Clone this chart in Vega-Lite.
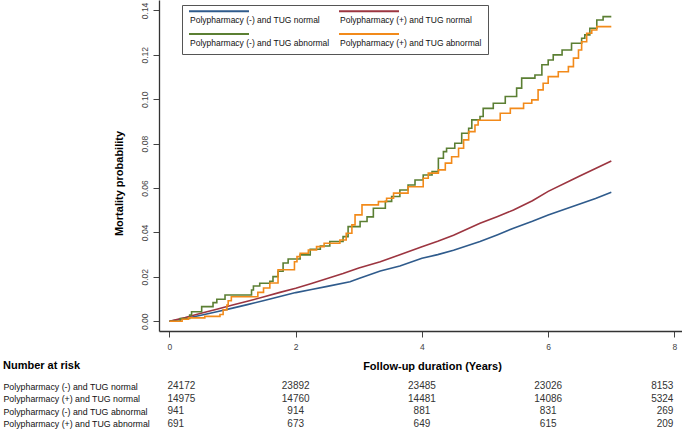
{
  "$schema": "https://vega.github.io/schema/vega-lite/v6.json",
  "background": "white",
  "padding": {"left": 3, "top": 0, "right": 0, "bottom": 0},
  "bounds": "flush",
  "spacing": 49,
  "config": {"font": "Liberation Sans", "view": {"stroke": null}, "axis": {"grid": false}},
  "datasets": {
    "blue": [
      {"t":0,"p":0},{"t":0.25,"p":0.0012},{"t":0.5,"p":0.0027},{"t":0.75,"p":0.0043},{"t":1.0,"p":0.0059},{"t":1.25,"p":0.0076},{"t":1.5,"p":0.0093},{"t":1.75,"p":0.0111},{"t":2.0,"p":0.0129},{"t":2.25,"p":0.0143},{"t":2.5,"p":0.0157},{"t":2.86,"p":0.0178},{"t":3.0,"p":0.0192},{"t":3.34,"p":0.0226},{"t":3.65,"p":0.0249},{"t":4.0,"p":0.0284},{"t":4.25,"p":0.0300},{"t":4.5,"p":0.0320},{"t":4.92,"p":0.0359},{"t":5.2,"p":0.0390},{"t":5.45,"p":0.0419},{"t":5.75,"p":0.0450},{"t":6.0,"p":0.0479},{"t":6.25,"p":0.0503},{"t":6.5,"p":0.0528},{"t":6.75,"p":0.0553},{"t":7.0,"p":0.0581}
    ],
    "red": [
      {"t":0,"p":0},{"t":0.25,"p":0.0017},{"t":0.5,"p":0.0036},{"t":0.75,"p":0.0054},{"t":1.0,"p":0.0073},{"t":1.25,"p":0.0091},{"t":1.5,"p":0.0110},{"t":1.75,"p":0.0130},{"t":2.0,"p":0.0149},{"t":2.25,"p":0.0170},{"t":2.5,"p":0.0192},{"t":2.75,"p":0.0215},{"t":3.0,"p":0.0240},{"t":3.34,"p":0.0268},{"t":3.65,"p":0.0299},{"t":4.0,"p":0.0336},{"t":4.25,"p":0.0360},{"t":4.5,"p":0.0387},{"t":4.92,"p":0.0441},{"t":5.2,"p":0.0472},{"t":5.45,"p":0.0501},{"t":5.75,"p":0.0543},{"t":6.0,"p":0.0585},{"t":6.37,"p":0.0636},{"t":6.5,"p":0.0654},{"t":6.75,"p":0.0688},{"t":7.0,"p":0.0722}
    ],
    "green": [
      {"t":0,"p":0},{"t":0.17,"p":0.0012},{"t":0.32,"p":0.0028},{"t":0.35,"p":0.0043},{"t":0.51,"p":0.0066},{"t":0.69,"p":0.0084},{"t":0.75,"p":0.0099},{"t":0.88,"p":0.0118},{"t":1.30,"p":0.0141},{"t":1.33,"p":0.0159},{"t":1.43,"p":0.0171},{"t":1.59,"p":0.0180},{"t":1.64,"p":0.0201},{"t":1.72,"p":0.0225},{"t":1.80,"p":0.0262},{"t":1.88,"p":0.0280},{"t":2.07,"p":0.0299},{"t":2.23,"p":0.0324},{"t":2.39,"p":0.0339},{"t":2.54,"p":0.0359},{"t":2.75,"p":0.0381},{"t":2.83,"p":0.0426},{"t":3.02,"p":0.0449},{"t":3.13,"p":0.0470},{"t":3.23,"p":0.0509},{"t":3.42,"p":0.0540},{"t":3.52,"p":0.0562},{"t":3.65,"p":0.0591},{"t":3.78,"p":0.0614},{"t":3.89,"p":0.0636},{"t":4.02,"p":0.0659},{"t":4.16,"p":0.0674},{"t":4.26,"p":0.0734},{"t":4.34,"p":0.0764},{"t":4.39,"p":0.0779},{"t":4.52,"p":0.0802},{"t":4.63,"p":0.0847},{"t":4.74,"p":0.0869},{"t":4.79,"p":0.0907},{"t":4.92,"p":0.0922},{"t":4.97,"p":0.0959},{"t":5.13,"p":0.0982},{"t":5.32,"p":0.1012},{"t":5.50,"p":0.1050},{"t":5.58,"p":0.1095},{"t":5.79,"p":0.1109},{"t":5.90,"p":0.1155},{"t":6.00,"p":0.1177},{"t":6.08,"p":0.1200},{"t":6.22,"p":0.1222},{"t":6.37,"p":0.1252},{"t":6.53,"p":0.1275},{"t":6.58,"p":0.1290},{"t":6.66,"p":0.1320},{"t":6.77,"p":0.1357},{"t":6.87,"p":0.1372},{"t":7.00,"p":0.1372}
    ],
    "orange": [
      {"t":0,"p":0},{"t":0.20,"p":0.0009},{"t":0.30,"p":0.0015},{"t":0.56,"p":0.0022},{"t":0.80,"p":0.0030},{"t":0.85,"p":0.0051},{"t":0.91,"p":0.0073},{"t":0.93,"p":0.0092},{"t":0.98,"p":0.0110},{"t":1.40,"p":0.0130},{"t":1.49,"p":0.0150},{"t":1.59,"p":0.0172},{"t":1.72,"p":0.0232},{"t":1.98,"p":0.0268},{"t":2.02,"p":0.0291},{"t":2.07,"p":0.0306},{"t":2.20,"p":0.0321},{"t":2.33,"p":0.0336},{"t":2.45,"p":0.0351},{"t":2.70,"p":0.0366},{"t":2.80,"p":0.0396},{"t":2.89,"p":0.0434},{"t":2.94,"p":0.0479},{"t":3.05,"p":0.0524},{"t":3.31,"p":0.0539},{"t":3.44,"p":0.0554},{"t":3.55,"p":0.0577},{"t":3.78,"p":0.0606},{"t":4.02,"p":0.0644},{"t":4.10,"p":0.0667},{"t":4.26,"p":0.0682},{"t":4.37,"p":0.0712},{"t":4.47,"p":0.0741},{"t":4.58,"p":0.0779},{"t":4.66,"p":0.0817},{"t":4.74,"p":0.0854},{"t":4.84,"p":0.0884},{"t":4.89,"p":0.0905},{"t":5.24,"p":0.0937},{"t":5.40,"p":0.0959},{"t":5.61,"p":0.0982},{"t":5.74,"p":0.0997},{"t":5.84,"p":0.1042},{"t":5.92,"p":0.1072},{"t":6.00,"p":0.1102},{"t":6.16,"p":0.1124},{"t":6.32,"p":0.1147},{"t":6.40,"p":0.1185},{"t":6.48,"p":0.1222},{"t":6.53,"p":0.1259},{"t":6.61,"p":0.1297},{"t":6.69,"p":0.1312},{"t":6.77,"p":0.1327},{"t":7.00,"p":0.1327}
    ],
    "risk": [
      {"g":"Polypharmacy (-) and TUG normal","t":0,"n":"24172"},{"g":"Polypharmacy (-) and TUG normal","t":2,"n":"23892"},{"g":"Polypharmacy (-) and TUG normal","t":4,"n":"23485"},{"g":"Polypharmacy (-) and TUG normal","t":6,"n":"23026"},{"g":"Polypharmacy (-) and TUG normal","t":8,"n":"8153"},
      {"g":"Polypharmacy (+) and TUG normal","t":0,"n":"14975"},{"g":"Polypharmacy (+) and TUG normal","t":2,"n":"14760"},{"g":"Polypharmacy (+) and TUG normal","t":4,"n":"14481"},{"g":"Polypharmacy (+) and TUG normal","t":6,"n":"14086"},{"g":"Polypharmacy (+) and TUG normal","t":8,"n":"5324"},
      {"g":"Polypharmacy (-) and TUG abnormal","t":0,"n":"941"},{"g":"Polypharmacy (-) and TUG abnormal","t":2,"n":"914"},{"g":"Polypharmacy (-) and TUG abnormal","t":4,"n":"881"},{"g":"Polypharmacy (-) and TUG abnormal","t":6,"n":"831"},{"g":"Polypharmacy (-) and TUG abnormal","t":8,"n":"269"},
      {"g":"Polypharmacy (+) and TUG abnormal","t":0,"n":"691"},{"g":"Polypharmacy (+) and TUG abnormal","t":2,"n":"673"},{"g":"Polypharmacy (+) and TUG abnormal","t":4,"n":"649"},{"g":"Polypharmacy (+) and TUG abnormal","t":6,"n":"615"},{"g":"Polypharmacy (+) and TUG abnormal","t":8,"n":"209"}
    ]
  },
  "vconcat": [
    {
      "width": 523,
      "height": 331,
      "encoding": {
        "x": {"field": "t", "type": "quantitative",
          "scale": {"domain": [-0.166, 8.12], "nice": false, "zero": false},
          "axis": {"values": [0,2,4,6,8], "format": "d", "labelFontSize": 8.5, "labelColor": "#444", "tickSize": 6, "tickColor": "#444", "domainColor": "#333", "domainWidth": 1.3, "labelPadding": 5,
            "title": "Follow-up duration (Years)", "titleFontSize": 11, "titleFontWeight": "bold", "titleColor": "#000", "titleX": 273, "titleY": 35, "titleBaseline": "middle", "titleAlign": "center"}},
        "y": {"field": "p", "type": "quantitative",
          "scale": {"domain": [-0.0044, 0.1447], "nice": false, "zero": false},
          "axis": {"values": [0,0.02,0.04,0.06,0.08,0.1,0.12,0.14], "format": ".2f", "labelAngle": 270, "labelAlign": "center", "labelBaseline": "bottom", "labelFontSize": 8.5, "labelColor": "#444", "tickSize": 6, "tickColor": "#444", "domainColor": "#333", "domainWidth": 1.3, "labelPadding": 4,
            "title": "Mortality probability", "titleFontSize": 11, "titleFontWeight": "bold", "titleColor": "#000", "titleX": -40, "titleY": 183, "titleBaseline": "middle", "titleAlign": "center", "titleAngle": 270}}
      },
      "layer": [
        {"data": {"name": "blue"}, "mark": {"type": "line", "strokeWidth": 1.6},
          "encoding": {"color": {"datum": "Polypharmacy (-) and TUG normal",
            "scale": {"domain": ["Polypharmacy (-) and TUG normal", "Polypharmacy (+) and TUG normal", "Polypharmacy (-) and TUG abnormal", "Polypharmacy (+) and TUG abnormal"], "range": ["#2f5b8c", "#9c3540", "#5b7f33", "#f28a1a"]},
            "legend": {"orient": "none", "legendX": 23, "legendY": 5, "direction": "horizontal", "columns": 2, "title": null, "symbolType": "M -15 0 L 15 0", "symbolSize": 16, "symbolStrokeWidth": 2, "labelBaseline": "top", "labelFontSize": 8.5, "labelColor": "#111", "labelLimit": 220, "rowPadding": 5, "columnPadding": 5, "padding": 6, "strokeColor": "#555", "fillColor": "white",
              "encode": {"symbols": {"update": {"x": {"value": 31}, "y": {"value": 0}}}, "labels": {"update": {"x": {"value": 2}, "y": {"value": 5}}}}}}}},
        {"data": {"name": "red"}, "mark": {"type": "line", "strokeWidth": 1.6},
          "encoding": {"color": {"datum": "Polypharmacy (+) and TUG normal"}}},
        {"data": {"name": "green"}, "mark": {"type": "line", "strokeWidth": 1.6, "interpolate": "step-after"},
          "encoding": {"color": {"datum": "Polypharmacy (-) and TUG abnormal"}}},
        {"data": {"name": "orange"}, "mark": {"type": "line", "strokeWidth": 1.6, "interpolate": "step-after"},
          "encoding": {"color": {"datum": "Polypharmacy (+) and TUG abnormal"}}}
      ]
    },
    {
      "width": 523,
      "height": 50,
      "title": {"text": "Number at risk", "anchor": "start", "frame": "bounds", "fontSize": 11, "fontWeight": "bold", "color": "#000", "baseline": "middle", "offset": 3},
      "data": {"name": "risk"},
      "encoding": {
        "x": {"field": "t", "type": "quantitative", "scale": {"domain": [-0.166, 8.12], "nice": false, "zero": false}, "axis": null},
        "y": {"field": "g", "type": "nominal",
          "sort": ["Polypharmacy (-) and TUG normal", "Polypharmacy (+) and TUG normal", "Polypharmacy (-) and TUG abnormal", "Polypharmacy (+) and TUG abnormal"],
          "scale": {"paddingInner": 0, "paddingOuter": 0},
          "axis": {"title": null, "domain": false, "ticks": false, "tickSize": 0, "labelAlign": "left", "labelPadding": 156, "labelFontSize": 8.8, "labelColor": "#111", "labelLimit": 200}},
        "text": {"field": "n", "type": "nominal"}
      },
      "layer": [
        {"transform": [{"filter": "datum.t == 0"}], "mark": {"type": "text", "fontSize": 10, "color": "#333", "align": "left", "dx": -2}},
        {"transform": [{"filter": "datum.t > 0 && datum.t < 8"}], "mark": {"type": "text", "fontSize": 10, "color": "#333", "align": "center"}},
        {"transform": [{"filter": "datum.t == 8"}], "mark": {"type": "text", "fontSize": 10, "color": "#333", "align": "right", "dx": -1}}
      ]
    }
  ]
}
